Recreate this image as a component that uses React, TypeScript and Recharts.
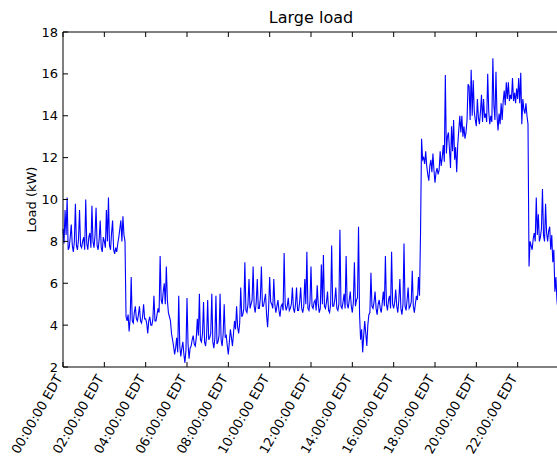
import React from 'react';
import { LineChart, Line, XAxis, YAxis } from 'recharts';

// Hour-of-day tick positions and their labels
const hourTicks = [0, 2, 4, 6, 8, 10, 12, 14, 16, 18, 20, 22];
const hourLabels = [
  '00:00:00 EDT', '02:00:00 EDT', '04:00:00 EDT', '06:00:00 EDT',
  '08:00:00 EDT', '10:00:00 EDT', '12:00:00 EDT', '14:00:00 EDT',
  '16:00:00 EDT', '18:00:00 EDT', '20:00:00 EDT', '22:00:00 EDT',
];
const loadTicks = [2, 4, 6, 8, 10, 12, 14, 16, 18];

const load00to04 = [
  8.6, 7.9, 9.5, 8.3, 10.1, 7.6, 7.7, 8.2, 8.8, 7.8,
  7.5, 8.0, 9.8, 7.8, 7.6, 8.1, 9.5, 7.8, 7.7, 8.0,
  8.2, 7.6, 10.0, 7.9, 7.6, 8.2, 8.4, 7.7, 9.7, 8.0,
  7.7, 8.3, 9.6, 7.8, 7.6, 8.1, 9.0, 7.7, 7.5, 8.2,
  8.0, 7.7, 9.5, 8.0, 10.1, 7.8, 7.6, 8.4, 9.0, 7.6,
  7.4, 7.7, 7.5, 7.9, 8.2, 8.6, 9.0, 8.0, 9.2, 8.3,
  8.0, 4.4, 4.2, 4.5, 3.7, 4.3, 6.3, 4.2, 4.1, 4.6,
  4.9, 4.3, 4.2, 4.5, 4.9, 4.2, 4.1, 4.4, 5.0, 4.3,
];
const load04to08 = [
  4.3, 4.1, 3.6, 4.2, 4.4, 4.0, 4.0, 4.3, 5.4, 4.2,
  4.2, 4.5, 4.8, 4.6, 7.3, 5.2, 5.0, 5.6, 6.0, 5.0,
  6.8, 5.2, 4.6, 4.4, 4.2, 3.6, 3.3, 3.0, 2.6, 2.9,
  3.4, 2.7, 5.4, 3.0, 2.5, 2.9, 3.2, 2.6, 2.2, 2.8,
  5.3, 3.1, 2.4, 2.9, 3.0, 3.3, 3.5, 3.1, 3.0, 3.4,
  4.3, 3.5, 5.5, 3.3, 3.2, 3.6, 5.1, 3.2, 3.0, 3.5,
  5.2, 3.3, 3.4, 3.6, 5.5, 3.2, 2.9, 3.4, 5.4, 3.1,
  3.2, 3.5, 5.5, 3.3, 3.0, 3.6, 5.0, 3.4, 3.5, 3.0,
];
const load08to12 = [
  2.6, 3.2, 3.8, 3.4, 3.0, 3.6, 4.2, 3.8, 4.9, 3.9,
  3.6, 4.1, 5.8, 4.4, 4.5, 4.8, 7.0, 4.7, 4.6, 5.0,
  6.2, 4.8, 5.0, 5.2, 6.8, 4.9, 4.6, 5.1, 6.2, 4.8,
  4.8, 5.3, 6.8, 4.9, 4.9, 5.2, 5.5, 4.5, 3.9, 4.8,
  6.3, 5.1, 5.0, 4.8, 6.2, 5.0, 4.6, 4.9, 5.2, 4.7,
  4.4, 4.9, 5.0, 4.7, 7.45, 5.0, 4.7, 4.9, 5.3, 4.7,
  4.8, 5.0, 5.8, 4.8, 4.6, 5.0, 5.8, 4.7, 4.7, 5.1,
  5.8, 4.8, 4.6, 4.9, 6.2, 5.0, 7.5, 4.8, 4.7, 5.1,
];
const load12to16 = [
  6.8, 4.9, 4.8, 5.1, 5.2, 4.7, 5.9, 5.0, 4.6, 4.8,
  6.9, 5.0, 7.35, 4.9, 4.8, 5.1, 5.6, 4.7, 4.6, 5.0,
  7.8, 4.9, 4.9, 5.2, 5.8, 4.8, 4.7, 5.0, 8.55, 4.9,
  4.8, 5.1, 5.5, 4.8, 7.3, 5.0, 4.8, 5.2, 5.6, 4.9,
  4.6, 5.1, 7.0, 4.9, 5.2, 5.3, 8.7, 4.5, 3.3, 3.8,
  2.7, 3.5, 4.2, 3.6, 3.0, 4.0, 4.5, 4.6, 6.5, 4.9,
  4.8, 5.1, 5.6, 4.8, 4.5, 5.0, 5.2, 4.8, 4.6, 5.1,
  5.6, 4.9, 7.3, 5.0, 4.7, 5.2, 5.4, 4.8, 7.5, 5.0,
];
const load16to20 = [
  4.8, 5.1, 5.7, 4.9, 4.6, 5.2, 6.2, 4.8, 4.5, 5.0,
  7.9, 4.9, 4.7, 5.2, 5.8, 4.8, 4.9, 5.1, 6.6, 4.9,
  4.6, 5.0, 5.4, 5.2, 6.3, 5.4,
  8.4, 12.9, 11.9, 12.0, 11.7, 12.3, 11.6, 11.2, 10.9, 11.6,
  11.9, 11.3, 12.2, 11.4, 10.8, 11.3, 11.5, 11.2, 11.4, 12.3,
  11.6, 12.0, 12.6, 11.8, 15.95, 12.2, 13.0, 13.2, 12.4, 11.5,
  13.5, 12.3, 13.8, 11.9, 12.5, 11.3, 12.6, 13.3, 14.0, 13.2,
  14.0, 13.0, 13.5, 12.9, 13.2, 13.8, 15.5, 15.4, 13.8, 16.2,
  14.0, 15.7, 14.2, 13.8,
];
const load20to24 = [
  13.5, 14.8, 13.9, 13.6, 14.2, 15.0, 13.7, 14.8, 13.9, 14.1,
  13.7, 16.0, 14.2, 13.6, 14.0, 13.7, 16.74, 14.5, 13.8, 16.1,
  14.0, 13.3, 14.1, 13.6, 14.6, 13.8, 14.7, 15.2, 14.5, 15.6,
  14.8, 15.6, 14.7, 15.0, 14.8, 15.8, 14.7, 15.1, 14.6, 15.3,
  14.8, 15.8, 14.6, 16.05, 13.6, 14.8, 14.3, 14.1, 14.6, 14.0,
  13.6, 6.8, 8.0, 7.8, 7.6, 8.1, 8.4, 8.0, 10.1, 8.3,
  9.3, 8.0, 8.2, 8.6, 10.5, 8.3, 8.0, 9.8, 8.4, 8.0,
  8.5, 8.7, 7.6, 8.3, 7.0, 7.6, 5.6, 6.3, 5.2, 4.7,
  4.4,
];

const SAMPLE_STEP_H = 0.05;
const samples = [load00to04, load04to08, load08to12, load12to16, load16to20, load20to24].flat();
const data = samples.map((v, i) => ({ h: Math.round(i * SAMPLE_STEP_H * 1000) / 1000, v }));

const FONT = 'DejaVu Sans';

const XTick = (props: any) => {
  const { x, y, payload } = props;
  const idx = hourTicks.indexOf(payload.value);
  const label = idx >= 0 ? hourLabels[idx] : '';
  const ty = y + 14;
  return (
    <text
      x={x}
      y={ty}
      textAnchor="end"
      transform={`rotate(-60, ${x}, ${ty})`}
      fontSize={13}
      fontFamily={FONT}
      fill="#000"
    >
      {label}
    </text>
  );
};

export default function App() {
  return (
    <div
      style={{
        position: 'absolute',
        left: 0,
        top: 0,
        width: 557,
        height: 457,
        overflow: 'hidden',
        background: '#fff',
      }}
    >
      <LineChart width={600} height={457} data={data} margin={{ top: 2, right: 0, bottom: 0, left: 0 }}>
        <XAxis
          xAxisId="b"
          dataKey="h"
          type="number"
          domain={[0, 24]}
          ticks={hourTicks}
          interval={0}
          orientation="bottom"
          height={90}
          tickSize={-5}
          tickMargin={2}
          tick={<XTick />}
          axisLine={{ stroke: '#000', strokeWidth: 1 }}
          tickLine={{ stroke: '#000', strokeWidth: 1 }}
        />
        <XAxis
          xAxisId="t"
          dataKey="h"
          type="number"
          domain={[0, 24]}
          ticks={hourTicks}
          interval={0}
          orientation="top"
          height={30}
          tickSize={-5}
          tickFormatter={() => ''}
          axisLine={{ stroke: '#000', strokeWidth: 1 }}
          tickLine={{ stroke: '#000', strokeWidth: 1 }}
        />
        <YAxis
          yAxisId="l"
          type="number"
          domain={[2, 18]}
          ticks={loadTicks}
          interval={0}
          width={63}
          tickSize={-5}
          tickMargin={10}
          tick={{ fill: '#000', fontSize: 13, fontFamily: FONT }}
          axisLine={{ stroke: '#000', strokeWidth: 1 }}
          tickLine={{ stroke: '#000', strokeWidth: 1 }}
        />
        <YAxis
          yAxisId="r"
          orientation="right"
          type="number"
          domain={[2, 18]}
          ticks={loadTicks}
          interval={0}
          width={41}
          tickSize={-5}
          tickFormatter={() => ''}
          axisLine={{ stroke: '#000', strokeWidth: 1 }}
          tickLine={{ stroke: '#000', strokeWidth: 1 }}
        />
        <Line
          xAxisId="b"
          yAxisId="l"
          type="linear"
          dataKey="v"
          stroke="#0000ff"
          strokeWidth={1.1}
          dot={false}
          activeDot={false}
          isAnimationActive={false}
        />
      </LineChart>
      <svg
        width={557}
        height={457}
        style={{ position: 'absolute', left: 0, top: 0, pointerEvents: 'none' }}
      >
        <text x={311} y={23} textAnchor="middle" fontSize={16} fontFamily={FONT} fill="#000">
          Large load
        </text>
        <text
          x={35.5}
          y={199.5}
          textAnchor="middle"
          transform="rotate(-90, 35.5, 199.5)"
          fontSize={13}
          fontFamily={FONT}
          fill="#000"
        >
          Load (kW)
        </text>
      </svg>
    </div>
  );
}
